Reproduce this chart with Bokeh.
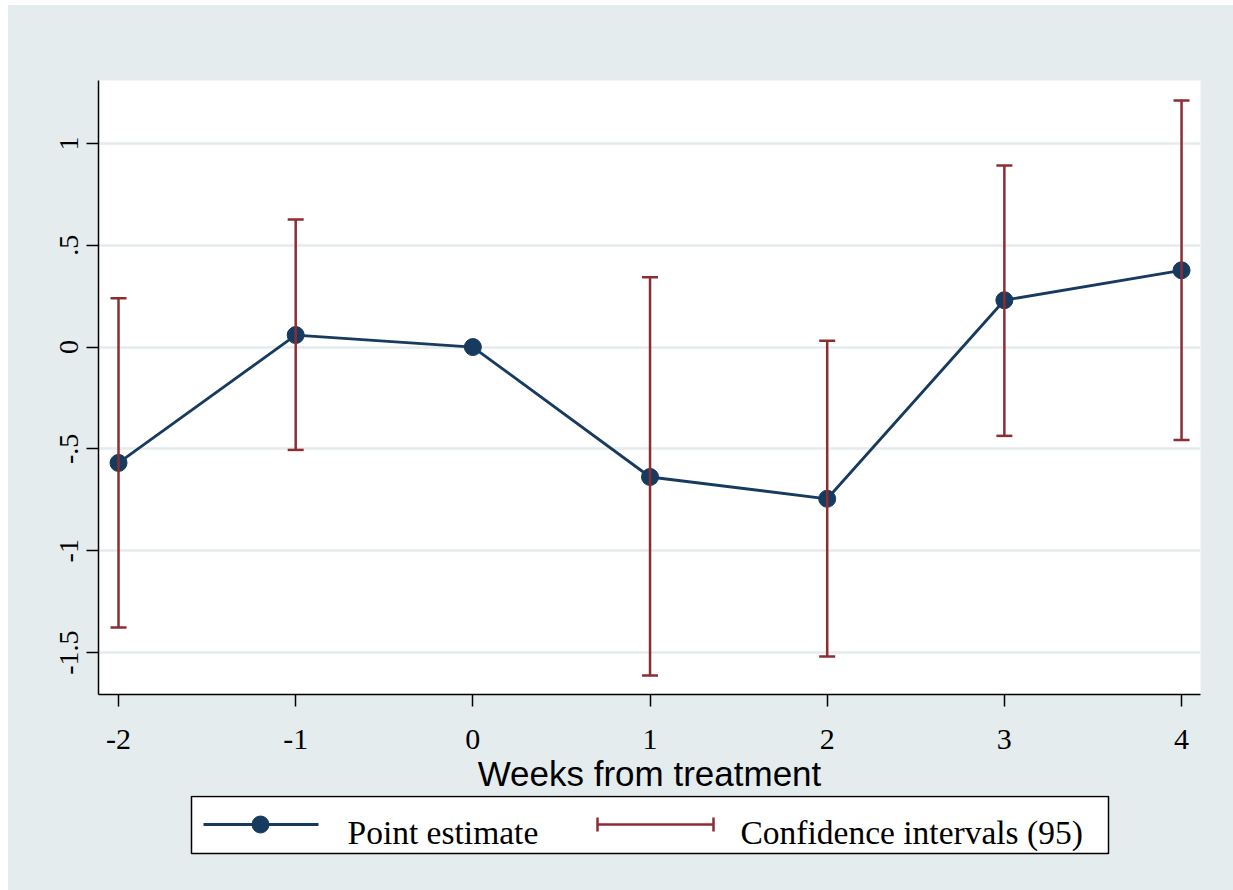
from bokeh.plotting import figure
from bokeh.models import FixedTicker, Range1d, Whisker, TeeHead, ColumnDataSource
from bokeh.layouts import column
from bokeh.core.properties import value
from bokeh.embed import file_html
from bokeh.resources import INLINE

# ---------------- data ----------------
weeks = [-2, -1, 0, 1, 2, 3, 4]
estimate = [-0.569, 0.059, 0.0, -0.638, -0.745, 0.230, 0.377]

ci_weeks = [-2, -1, 1, 2, 3, 4]
ci_upper = [0.240, 0.627, 0.343, 0.031, 0.892, 1.211]
ci_lower = [-1.377, -0.505, -1.613, -1.520, -0.436, -0.456]

x_tick_values = [-2, -1, 0, 1, 2, 3, 4]
x_tick_labels = ["-2", "-1", "0", "1", "2", "3", "4"]
y_tick_values = [-1.5, -1.0, -0.5, 0.0, 0.5, 1.0]
y_tick_labels = ["-1.5", "-1", "-.5", "0", ".5", "1"]

x_title = "Weeks from treatment"
legend_labels = ["Point estimate", "Confidence intervals (95)"]

# ---------------- styles ----------------
BG = "#e4ecee"
NAVY = "#173a5f"
MAROON = "#8c2d34"
SERIF = "Liberation Serif"
SANS = "Liberation Sans"

W = 1225
H_MAIN = 790
H_LEG = 95
BORDER_L, BORDER_R = 90, 33

p = figure(width=W, height=H_MAIN,
           x_range=Range1d(-2.113, 4.107), y_range=Range1d(-1.706, 1.309),
           output_backend="svg", toolbar_location=None,
           min_border_left=BORDER_L, min_border_right=BORDER_R,
           min_border_top=75, min_border_bottom=100)
p.outline_line_color = None
p.background_fill_color = "white"
p.border_fill_color = BG

p.xgrid.visible = False
p.ygrid.grid_line_color = BG
p.ygrid.grid_line_width = 2.5
p.ygrid.ticker = FixedTicker(ticks=y_tick_values)

# x axis
xa = p.xaxis[0]
xa.ticker = FixedTicker(ticks=x_tick_values)
xa.major_label_overrides = {v: l for v, l in zip(x_tick_values, x_tick_labels)}
xa.minor_tick_line_color = None
xa.axis_line_width = 1.5
xa.major_tick_line_width = 1.5
xa.major_tick_out = 12
xa.major_tick_in = 0
xa.major_label_standoff = 23
xa.major_label_text_font = SERIF
xa.major_label_text_font_size = "30px"
xa.major_label_text_color = "black"
xa.axis_label = x_title
xa.axis_label_text_font = SANS
xa.axis_label_text_font_size = "35px"
xa.axis_label_text_font_style = "normal"
xa.axis_label_text_color = "black"
xa.axis_label_standoff = 2

# y axis
ya = p.yaxis[0]
ya.ticker = FixedTicker(ticks=y_tick_values)
ya.major_label_overrides = {v: l for v, l in zip(y_tick_values, y_tick_labels)}
ya.minor_tick_line_color = None
ya.axis_line_width = 1.5
ya.major_tick_line_width = 1.5
ya.major_tick_out = 12
ya.major_tick_in = 0
ya.major_label_standoff = 8
ya.major_label_orientation = "vertical"
ya.major_label_text_font = SERIF
ya.major_label_text_font_size = "28px"
ya.major_label_text_color = "black"

# series
src = ColumnDataSource(dict(x=weeks, y=estimate))
p.line("x", "y", source=src, line_color=NAVY, line_width=2.8)
p.scatter("x", "y", source=src, size=17, fill_color=NAVY, line_color=NAVY)

ci_src = ColumnDataSource(dict(base=ci_weeks, upper=ci_upper, lower=ci_lower))
wh = Whisker(base="base", upper="upper", lower="lower", source=ci_src,
             line_color=MAROON, line_width=2.5, level="annotation",
             upper_head=TeeHead(size=16, line_color=MAROON, line_width=2.5),
             lower_head=TeeHead(size=16, line_color=MAROON, line_width=2.5))
p.add_layout(wh)

# ---------------- legend strip (coordinates = page pixels) ----------------
lf = figure(width=W, height=H_LEG,
            x_range=Range1d(98, 1200), y_range=Range1d(890, 795),
            output_backend="svg", toolbar_location=None,
            x_axis_location=None, y_axis_location=None,
            min_border_left=BORDER_L, min_border_right=BORDER_R,
            min_border_top=0, min_border_bottom=0)
lf.outline_line_color = None
lf.background_fill_color = None
lf.border_fill_color = BG
for g in lf.grid:
    g.visible = False

lf.quad(left=191, right=1108, top=796, bottom=853, fill_color="white",
        line_color="black", line_width=1.5)
lf.line([203, 318], [824, 824], line_color=NAVY, line_width=2.8)
lf.scatter([260], [824], size=17, fill_color=NAVY, line_color=NAVY)
lf.segment([597, 597, 713], [824, 817, 817], [713, 597, 713], [824, 831, 831],
           line_color=MAROON, line_width=2.5)
lf.text(x=[347, 740], y=[832, 832], text=legend_labels,
        text_font=value(SERIF), text_font_size="33.5px", text_color="black",
        text_baseline="middle", text_align="left")

layout = column(p, lf, spacing=0, margin=(5, 0, 0, 8),
                styles={"background-color": BG})
open("out.html", "w").write(file_html(layout, INLINE))
